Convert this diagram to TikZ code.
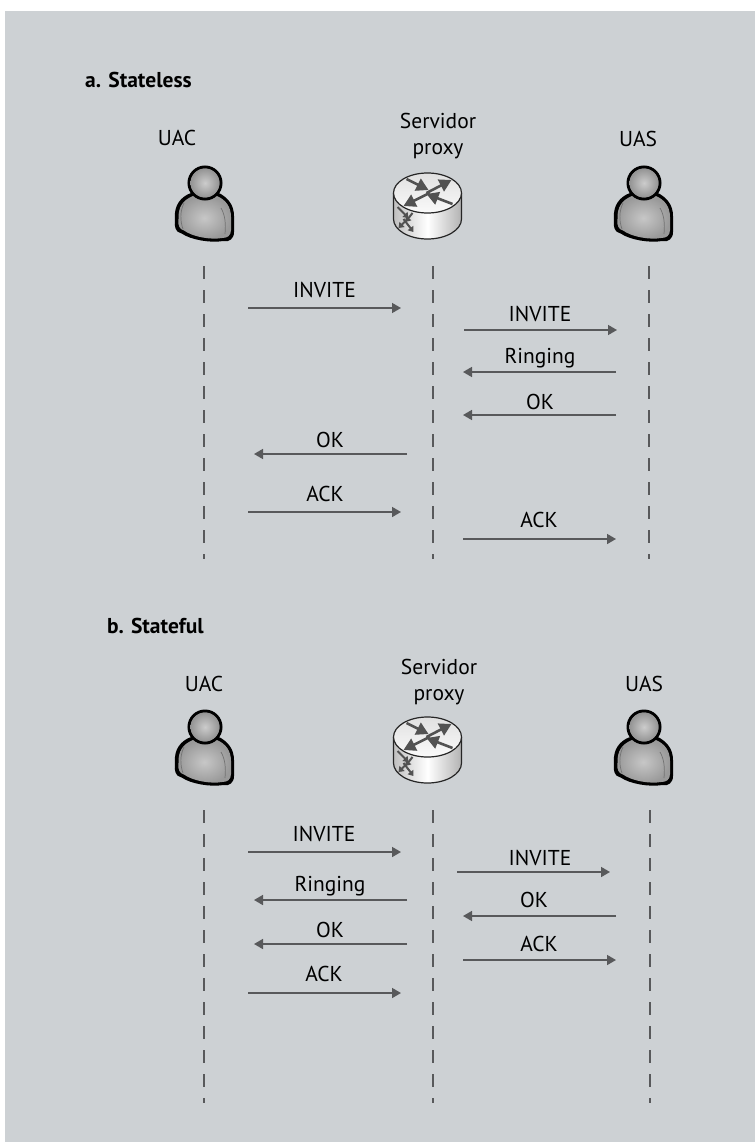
\documentclass[tikz,border=0pt]{standalone}
\usepackage{fontspec}
\setmainfont{PT Sans}
\usepackage{tikz}
\usetikzlibrary{positioning}
\usetikzlibrary{arrows.meta}
\definecolor{panelgray}{HTML}{CDD1D4}
\definecolor{linegray}{HTML}{58595B}
\tikzset{
    lifeline/.style={draw=linegray, line width=1.1pt, dash pattern=on 13pt off 11pt},
    msg/.style={draw=linegray, line width=1.6pt, -{Triangle[length=9pt,width=10pt]}},
    msglabel/.style={font=\fontsize{21.5}{23}\selectfont, inner sep=0pt, anchor=base},
    actor/.style={font=\fontsize{21.5}{22}\selectfont, inner sep=0pt, align=center},
    heading/.style={font=\fontsize{21.5}{23}\selectfont\bfseries, inner sep=0pt, anchor=base west},
    usericon/.pic={
        \fill[black, rounded corners=1pt] (-14,10) .. controls (-24,14) and (-31,22) .. (-30,36)
            .. controls (-31,44) and (-29,49) .. (-24,50)
            .. controls (-14,57) and (6,60) .. (18,58)
            .. controls (24,59) and (29,56) .. (29,48)
            -- (29,34) .. controls (29,22) and (23,15) .. (14,10) -- cycle;
        \shade[inner color=black!22, outer color=black!40] (-12,13) .. controls (-22,17) and (-27,24) .. (-26.5,36)
            .. controls (-27.5,43) and (-25,46.5) .. (-21,47.5)
            .. controls (-12,54) and (6,57) .. (17,55)
            .. controls (22,55) and (26,53) .. (26,47)
            -- (26,34) .. controls (26,24) and (21,17) .. (12,13) -- cycle;
        \draw[black!55, line width=0.7pt] (-21,20) .. controls (-25,28) and (-25,38) .. (-22,46);
        \draw[black!55, line width=0.7pt] (16,25) .. controls (20,32) and (21,40) .. (20,51);
        \draw[black, line width=3pt, fill=black!40] (0,0) circle [radius=16];
        \shade[inner color=black!20, outer color=black!42] (0,0) circle [radius=14.5];
    },
    routerarrow/.style={draw=black!68, line width=2.6pt, -{Triangle[length=12pt,width=13pt]}},
    routersmall/.style={draw=black!68, line width=2pt, -{Triangle[length=5pt,width=7pt]}},
    routericon/.pic={
        \shade[left color=black!25, right color=black!30, middle color=white]
            (-34,0) -- (-34,26) arc [start angle=180, end angle=0, x radius=34, y radius=20] -- (34,0) -- cycle;
        \draw[black!85, line width=1.2pt] (-34,0) -- (-34,26) arc [start angle=180, end angle=0, x radius=34, y radius=20] -- (34,0);
        \shade[top color=black!12, bottom color=black!2, draw=black!85, line width=1.2pt] (0,0) ellipse [x radius=34, y radius=20];
        \draw[routerarrow] (-21,-14) -- (1,-3);
        \draw[routerarrow] (-1,0) -- (24,-13);
        \draw[routerarrow] (2,0) -- (-24,13);
        \draw[routerarrow] (25,11) -- (-1,1);
        \draw[routersmall] (-30,14) -- (-19,25);
        \draw[routersmall] (-15,20) -- (-22,29);
        \draw[routersmall] (-20,26) -- (-29,35);
        \draw[routersmall] (-24,26) -- (-14,39);
    }
}
\begin{document}
\begin{tikzpicture}[x=1pt, y=-1pt]
    \useasboundingbox (0,0) rectangle (755,1142);
    \fill[panelgray] (5,11) rectangle (755,1142);
    % a. stateless
    \path
        node (headA) at (85,88) [heading] {a. Stateless}
        node (uacA) at (177,138) [actor] {UAC}
        node (proxyA) at (438,136) [actor] {Servidor\\[4pt]proxy}
        node (uasA) at (638,139) [actor] {UAS};
    \path
        pic at (205,183) {usericon}
        pic at (427.5,193) {routericon}
        pic at (644,183) {usericon};
    \coordinate (uacAtop) at (204,266);
    \coordinate (uacAend) at (204,559);
    \coordinate (proxyAtop) at (433,266);
    \coordinate (proxyAend) at (433,559);
    \coordinate (uasAtop) at (649,266);
    \coordinate (uasAend) at (649,559);
    \draw[lifeline] (uacAtop) -- (uacAend);
    \draw[lifeline] (proxyAtop) -- (proxyAend);
    \draw[lifeline] (uasAtop) -- (uasAend);
    \coordinate (a1s) at (248,308);  \coordinate (a1e) at (401,308);
    \coordinate (a2s) at (464,330);  \coordinate (a2e) at (617,330);
    \coordinate (a3s) at (616,372);  \coordinate (a3e) at (463,372);
    \coordinate (a4s) at (616,415);  \coordinate (a4e) at (463,415);
    \coordinate (a5s) at (407,454);  \coordinate (a5e) at (254,454);
    \coordinate (a6s) at (248,512);  \coordinate (a6e) at (401,512);
    \coordinate (a7s) at (463,539);  \coordinate (a7e) at (616,539);
    \draw[msg] (a1s) -- (a1e);
    \draw[msg] (a2s) -- (a2e);
    \draw[msg] (a3s) -- (a3e);
    \draw[msg] (a4s) -- (a4e);
    \draw[msg] (a5s) -- (a5e);
    \draw[msg] (a6s) -- (a6e);
    \draw[msg] (a7s) -- (a7e);
    \path
        node (a1t) at (324.5,297) [msglabel] {INVITE}
        node (a2t) at (540,321) [msglabel] {INVITE}
        node (a3t) at (540,363) [msglabel] {Ringing}
        node (a4t) at (540,409) [msglabel] {OK}
        node (a5t) at (330,447) [msglabel] {OK}
        node (a6t) at (325,501) [msglabel] {ACK}
        node (a7t) at (539,527) [msglabel] {ACK};
    % b. stateful
    \path
        node (headB) at (107,633) [heading] {b. Stateful}
        node (uacB) at (204,684) [actor] {UAC}
        node (proxyB) at (439,682) [actor] {Servidor\\[4pt]proxy}
        node (uasB) at (644,684) [actor] {UAS};
    \path
        pic at (205,727) {usericon}
        pic at (427.5,737) {routericon}
        pic at (644,727) {usericon};
    \coordinate (uacBtop) at (204,810);
    \coordinate (uacBend) at (204,1103);
    \coordinate (proxyBtop) at (433,810);
    \coordinate (proxyBend) at (433,1103);
    \coordinate (uasBtop) at (650,810);
    \coordinate (uasBend) at (650,1103);
    \draw[lifeline] (uacBtop) -- (uacBend);
    \draw[lifeline] (proxyBtop) -- (proxyBend);
    \draw[lifeline] (uasBtop) -- (uasBend);
    \coordinate (b1s) at (248,852);  \coordinate (b1e) at (401,852);
    \coordinate (b2s) at (407,900);  \coordinate (b2e) at (254,900);
    \coordinate (b3s) at (407,944);  \coordinate (b3e) at (254,944);
    \coordinate (b4s) at (248,993);  \coordinate (b4e) at (401,993);
    \coordinate (b5s) at (457,872);  \coordinate (b5e) at (610,872);
    \coordinate (b6s) at (616,916);  \coordinate (b6e) at (463,916);
    \coordinate (b7s) at (463,960);  \coordinate (b7e) at (616,960);
    \draw[msg] (b1s) -- (b1e);
    \draw[msg] (b2s) -- (b2e);
    \draw[msg] (b3s) -- (b3e);
    \draw[msg] (b4s) -- (b4e);
    \draw[msg] (b5s) -- (b5e);
    \draw[msg] (b6s) -- (b6e);
    \draw[msg] (b7s) -- (b7e);
    \path
        node (b1t) at (324,841) [msglabel] {INVITE}
        node (b2t) at (330,891) [msglabel] {Ringing}
        node (b3t) at (330,937) [msglabel] {OK}
        node (b4t) at (324,981) [msglabel] {ACK}
        node (b5t) at (540,865) [msglabel] {INVITE}
        node (b6t) at (534,907) [msglabel] {OK}
        node (b7t) at (539,951) [msglabel] {ACK};
\end{tikzpicture}
\end{document}
